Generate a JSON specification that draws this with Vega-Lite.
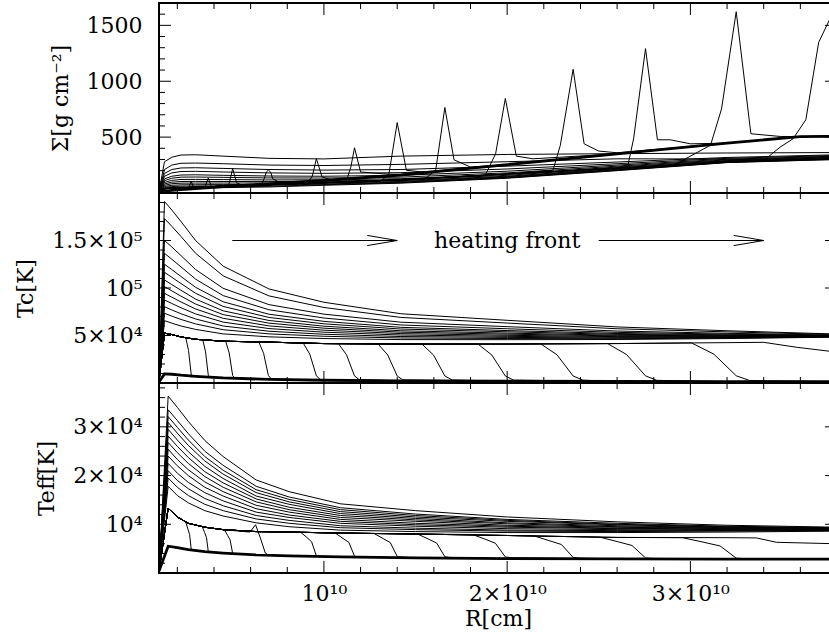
{
"$schema":"https://vega.github.io/schema/vega-lite/v6.json",
"padding":{"left":13,"top":1,"right":0,"bottom":0},
"spacing":0,
"bounds":"flush",
"config":{"font":"DejaVu Serif","view":{"stroke":"black","strokeWidth":2},
"axis":{"labelFont":"DejaVu Serif","titleFont":"DejaVu Serif","labelFontSize":22,"titleFontSize":22,"titleFontWeight":"normal","labelColor":"black","titleColor":"black","ticks":false,"grid":false,"domain":false,"labelOverlap":false,"labelFlush":false}},
"datasets":{
"xt":[{"r":2e9,"k":"m"},{"r":4e9,"k":"m"},{"r":6e9,"k":"m"},{"r":8e9,"k":"m"},{"r":1e10,"k":"M"},{"r":1.2e10,"k":"m"},{"r":1.4e10,"k":"m"},{"r":1.6e10,"k":"m"},{"r":1.8e10,"k":"m"},{"r":2e10,"k":"M"},{"r":2.2e10,"k":"m"},{"r":2.4e10,"k":"m"},{"r":2.6e10,"k":"m"},{"r":2.8e10,"k":"m"},{"r":3e10,"k":"M"},{"r":3.2e10,"k":"m"},{"r":3.4e10,"k":"m"},{"r":3.6e10,"k":"m"}],
"y1":[{"v":100,"k":"m"},{"v":200,"k":"m"},{"v":300,"k":"m"},{"v":400,"k":"m"},{"v":500,"k":"M"},{"v":600,"k":"m"},{"v":700,"k":"m"},{"v":800,"k":"m"},{"v":900,"k":"m"},{"v":1000,"k":"M"},{"v":1100,"k":"m"},{"v":1200,"k":"m"},{"v":1300,"k":"m"},{"v":1400,"k":"m"},{"v":1500,"k":"M"},{"v":1600,"k":"m"}],
"y2":[{"v":10000,"k":"m"},{"v":20000,"k":"m"},{"v":30000,"k":"m"},{"v":40000,"k":"m"},{"v":50000,"k":"M"},{"v":60000,"k":"m"},{"v":70000,"k":"m"},{"v":80000,"k":"m"},{"v":90000,"k":"m"},{"v":100000,"k":"M"},{"v":110000,"k":"m"},{"v":120000,"k":"m"},{"v":130000,"k":"m"},{"v":140000,"k":"m"},{"v":150000,"k":"M"},{"v":160000,"k":"m"},{"v":170000,"k":"m"},{"v":180000,"k":"m"},{"v":190000,"k":"m"}],
"y3":[{"v":2000,"k":"m"},{"v":4000,"k":"m"},{"v":6000,"k":"m"},{"v":8000,"k":"m"},{"v":10000,"k":"M"},{"v":12000,"k":"m"},{"v":14000,"k":"m"},{"v":16000,"k":"m"},{"v":18000,"k":"m"},{"v":20000,"k":"M"},{"v":22000,"k":"m"},{"v":24000,"k":"m"},{"v":26000,"k":"m"},{"v":28000,"k":"m"},{"v":30000,"k":"M"},{"v":32000,"k":"m"},{"v":34000,"k":"m"},{"v":36000,"k":"m"},{"v":38000,"k":"m"}],
"sig":[
{"c":"h1","r":1e9,"v":10},{"c":"h1","r":1.3e9,"v":280},{"c":"h1","r":1.7e9,"v":320},{"c":"h1","r":2.2e9,"v":340},{"c":"h1","r":3e9,"v":342},{"c":"h1","r":4.5e9,"v":330},{"c":"h1","r":7e9,"v":310},{"c":"h1","r":1e10,"v":305},{"c":"h1","r":1.42e10,"v":330},{"c":"h1","r":2e10,"v":345},{"c":"h1","r":2.6e10,"v":352},{"c":"h1","r":3.2e10,"v":358},{"c":"h1","r":3.8e10,"v":362},
{"c":"h2","r":1e9,"v":9},{"c":"h2","r":1.3e9,"v":210},{"c":"h2","r":1.7e9,"v":250},{"c":"h2","r":2.2e9,"v":266},{"c":"h2","r":3e9,"v":268},{"c":"h2","r":4.5e9,"v":262},{"c":"h2","r":7e9,"v":250},{"c":"h2","r":1e10,"v":246},{"c":"h2","r":1.42e10,"v":256},{"c":"h2","r":2e10,"v":280},{"c":"h2","r":2.6e10,"v":306},{"c":"h2","r":3.2e10,"v":304},{"c":"h2","r":3.8e10,"v":298},
{"c":"h3","r":1e9,"v":9},{"c":"h3","r":1.3e9,"v":175},{"c":"h3","r":1.7e9,"v":210},{"c":"h3","r":2.2e9,"v":224},{"c":"h3","r":3e9,"v":226},{"c":"h3","r":4.5e9,"v":220},{"c":"h3","r":7e9,"v":210},{"c":"h3","r":1e10,"v":205},{"c":"h3","r":1.42e10,"v":210},{"c":"h3","r":2e10,"v":240},{"c":"h3","r":2.6e10,"v":277},{"c":"h3","r":3.2e10,"v":318},{"c":"h3","r":3.8e10,"v":342},
{"c":"h4","r":1e9,"v":8},{"c":"h4","r":1.3e9,"v":150},{"c":"h4","r":1.7e9,"v":180},{"c":"h4","r":2.2e9,"v":192},{"c":"h4","r":3e9,"v":194},{"c":"h4","r":4.5e9,"v":188},{"c":"h4","r":7e9,"v":180},{"c":"h4","r":1e10,"v":176},{"c":"h4","r":1.42e10,"v":182},{"c":"h4","r":2e10,"v":215},{"c":"h4","r":2.6e10,"v":262},{"c":"h4","r":3.2e10,"v":310},{"c":"h4","r":3.8e10,"v":336},
{"c":"h5","r":1e9,"v":8},{"c":"h5","r":1.3e9,"v":126},{"c":"h5","r":1.7e9,"v":150},{"c":"h5","r":2.2e9,"v":161},{"c":"h5","r":3e9,"v":163},{"c":"h5","r":4.5e9,"v":158},{"c":"h5","r":7e9,"v":152},{"c":"h5","r":1e10,"v":150},{"c":"h5","r":1.42e10,"v":158},{"c":"h5","r":2e10,"v":195},{"c":"h5","r":2.6e10,"v":250},{"c":"h5","r":3.2e10,"v":302},{"c":"h5","r":3.8e10,"v":330},
{"c":"h6","r":1e9,"v":7},{"c":"h6","r":1.3e9,"v":110},{"c":"h6","r":1.7e9,"v":132},{"c":"h6","r":2.2e9,"v":142},{"c":"h6","r":3e9,"v":143},{"c":"h6","r":4.5e9,"v":140},{"c":"h6","r":7e9,"v":135},{"c":"h6","r":1e10,"v":134},{"c":"h6","r":1.42e10,"v":142},{"c":"h6","r":2e10,"v":180},{"c":"h6","r":2.6e10,"v":240},{"c":"h6","r":3.2e10,"v":296},{"c":"h6","r":3.8e10,"v":325},
{"c":"h7","r":1e9,"v":7},{"c":"h7","r":1.3e9,"v":94},{"c":"h7","r":1.7e9,"v":113},{"c":"h7","r":2.2e9,"v":121},{"c":"h7","r":3e9,"v":122},{"c":"h7","r":4.5e9,"v":120},{"c":"h7","r":7e9,"v":117},{"c":"h7","r":1e10,"v":118},{"c":"h7","r":1.42e10,"v":128},{"c":"h7","r":2e10,"v":168},{"c":"h7","r":2.6e10,"v":232},{"c":"h7","r":3.2e10,"v":290},{"c":"h7","r":3.8e10,"v":320},
{"c":"h8","r":1e9,"v":6},{"c":"h8","r":1.3e9,"v":81},{"c":"h8","r":1.7e9,"v":97},{"c":"h8","r":2.2e9,"v":103},{"c":"h8","r":3e9,"v":104},{"c":"h8","r":4.5e9,"v":103},{"c":"h8","r":7e9,"v":102},{"c":"h8","r":1e10,"v":106},{"c":"h8","r":1.42e10,"v":118},{"c":"h8","r":2e10,"v":158},{"c":"h8","r":2.6e10,"v":225},{"c":"h8","r":3.2e10,"v":286},{"c":"h8","r":3.8e10,"v":316},
{"c":"h9","r":1e9,"v":6},{"c":"h9","r":1.3e9,"v":69},{"c":"h9","r":1.7e9,"v":83},{"c":"h9","r":2.2e9,"v":88},{"c":"h9","r":3e9,"v":89},{"c":"h9","r":4.5e9,"v":89},{"c":"h9","r":7e9,"v":90},{"c":"h9","r":1e10,"v":96},{"c":"h9","r":1.42e10,"v":110},{"c":"h9","r":2e10,"v":150},{"c":"h9","r":2.6e10,"v":218},{"c":"h9","r":3.2e10,"v":282},{"c":"h9","r":3.8e10,"v":312},
{"c":"h10","r":1e9,"v":5},{"c":"h10","r":1.3e9,"v":58},{"c":"h10","r":1.7e9,"v":69},{"c":"h10","r":2.2e9,"v":73},{"c":"h10","r":3e9,"v":74},{"c":"h10","r":4.5e9,"v":75},{"c":"h10","r":7e9,"v":78},{"c":"h10","r":1e10,"v":87},{"c":"h10","r":1.42e10,"v":103},{"c":"h10","r":2e10,"v":145},{"c":"h10","r":2.6e10,"v":212},{"c":"h10","r":3.2e10,"v":279},{"c":"h10","r":3.8e10,"v":308},
{"c":"h11","r":1e9,"v":5},{"c":"h11","r":1.3e9,"v":49},{"c":"h11","r":1.7e9,"v":58},{"c":"h11","r":2.2e9,"v":61},{"c":"h11","r":3e9,"v":62},{"c":"h11","r":4.5e9,"v":64},{"c":"h11","r":7e9,"v":68},{"c":"h11","r":1e10,"v":80},{"c":"h11","r":1.42e10,"v":97},{"c":"h11","r":2e10,"v":140},{"c":"h11","r":2.6e10,"v":207},{"c":"h11","r":3.2e10,"v":276},{"c":"h11","r":3.8e10,"v":305},
{"c":"h12","r":1e9,"v":5},{"c":"h12","r":1.3e9,"v":42},{"c":"h12","r":1.7e9,"v":49},{"c":"h12","r":2.2e9,"v":52},{"c":"h12","r":3e9,"v":52},{"c":"h12","r":4.5e9,"v":55},{"c":"h12","r":7e9,"v":60},{"c":"h12","r":1e10,"v":74},{"c":"h12","r":1.42e10,"v":92},{"c":"h12","r":2e10,"v":136},{"c":"h12","r":2.6e10,"v":203},{"c":"h12","r":3.2e10,"v":274},{"c":"h12","r":3.8e10,"v":302},
{"c":"h13","r":1e9,"v":4},{"c":"h13","r":1.3e9,"v":36},{"c":"h13","r":1.7e9,"v":42},{"c":"h13","r":2.2e9,"v":45},{"c":"h13","r":3e9,"v":45},{"c":"h13","r":4.5e9,"v":48},{"c":"h13","r":7e9,"v":54},{"c":"h13","r":1e10,"v":69},{"c":"h13","r":1.42e10,"v":88},{"c":"h13","r":2e10,"v":132},{"c":"h13","r":2.6e10,"v":200},{"c":"h13","r":3.2e10,"v":272},{"c":"h13","r":3.8e10,"v":300},
{"c":"cold","r":1e9,"v":12},{"c":"cold","r":1.3e9,"v":17},{"c":"cold","r":1.7e9,"v":23},{"c":"cold","r":2.2e9,"v":30},{"c":"cold","r":3e9,"v":40},{"c":"cold","r":4.5e9,"v":57},{"c":"cold","r":7e9,"v":82},{"c":"cold","r":1e10,"v":112},{"c":"cold","r":1.42e10,"v":161},{"c":"cold","r":2e10,"v":254},{"c":"cold","r":2.6e10,"v":350},{"c":"cold","r":3.2e10,"v":446},{"c":"cold","r":3.6e10,"v":505},{"c":"cold","r":3.8e10,"v":507},
{"c":"f1","r":1e9,"v":10},{"c":"f1","r":1.3e9,"v":39},{"c":"f1","r":1.7e9,"v":43},{"c":"f1","r":2.2e9,"v":47},{"c":"f1","r":2.61e9,"v":45},{"c":"f1","r":2.76e9,"v":104},{"c":"f1","r":2.91e9,"v":36},{"c":"f1","r":3e9,"v":40},{"c":"f1","r":4.5e9,"v":57},{"c":"f1","r":7e9,"v":82},{"c":"f1","r":1e10,"v":112},{"c":"f1","r":1.42e10,"v":161},{"c":"f1","r":2e10,"v":254},{"c":"f1","r":2.6e10,"v":350},{"c":"f1","r":3.2e10,"v":446},{"c":"f1","r":3.6e10,"v":505},{"c":"f1","r":3.8e10,"v":507},
{"c":"f2","r":1e9,"v":10},{"c":"f2","r":1.3e9,"v":39},{"c":"f2","r":1.7e9,"v":43},{"c":"f2","r":2.2e9,"v":47},{"c":"f2","r":3e9,"v":52},{"c":"f2","r":3.51e9,"v":55},{"c":"f2","r":3.69e9,"v":134},{"c":"f2","r":3.87e9,"v":54},{"c":"f2","r":4.5e9,"v":57},{"c":"f2","r":7e9,"v":82},{"c":"f2","r":1e10,"v":112},{"c":"f2","r":1.42e10,"v":161},{"c":"f2","r":2e10,"v":254},{"c":"f2","r":2.6e10,"v":350},{"c":"f2","r":3.2e10,"v":446},{"c":"f2","r":3.6e10,"v":505},{"c":"f2","r":3.8e10,"v":507},
{"c":"f3","r":1e9,"v":10},{"c":"f3","r":1.3e9,"v":39},{"c":"f3","r":1.7e9,"v":43},{"c":"f3","r":2.2e9,"v":47},{"c":"f3","r":3e9,"v":52},{"c":"f3","r":4.5e9,"v":61},{"c":"f3","r":4.8e9,"v":66},{"c":"f3","r":5.02e9,"v":217},{"c":"f3","r":5.24e9,"v":90},{"c":"f3","r":5.6e9,"v":66},{"c":"f3","r":7e9,"v":82},{"c":"f3","r":1e10,"v":112},{"c":"f3","r":1.42e10,"v":161},{"c":"f3","r":2e10,"v":254},{"c":"f3","r":2.6e10,"v":350},{"c":"f3","r":3.2e10,"v":446},{"c":"f3","r":3.6e10,"v":505},{"c":"f3","r":3.8e10,"v":507},
{"c":"f4","r":1e9,"v":10},{"c":"f4","r":1.3e9,"v":39},{"c":"f4","r":1.7e9,"v":43},{"c":"f4","r":2.2e9,"v":47},{"c":"f4","r":3e9,"v":52},{"c":"f4","r":4.5e9,"v":61},{"c":"f4","r":6.6e9,"v":73},{"c":"f4","r":6.75e9,"v":134},{"c":"f4","r":6.87e9,"v":190},{"c":"f4","r":6.97e9,"v":205},{"c":"f4","r":7.1e9,"v":185},{"c":"f4","r":7.2e9,"v":128},{"c":"f4","r":7.6e9,"v":92},{"c":"f4","r":1e10,"v":112},{"c":"f4","r":1.42e10,"v":161},{"c":"f4","r":2e10,"v":254},{"c":"f4","r":2.6e10,"v":350},{"c":"f4","r":3.2e10,"v":446},{"c":"f4","r":3.6e10,"v":505},{"c":"f4","r":3.8e10,"v":507},
{"c":"f5","r":1e9,"v":10},{"c":"f5","r":1.3e9,"v":39},{"c":"f5","r":1.7e9,"v":43},{"c":"f5","r":2.2e9,"v":47},{"c":"f5","r":3e9,"v":52},{"c":"f5","r":4.5e9,"v":61},{"c":"f5","r":7e9,"v":75},{"c":"f5","r":9.1e9,"v":88},{"c":"f5","r":9.37e9,"v":152},{"c":"f5","r":9.59e9,"v":307},{"c":"f5","r":9.9e9,"v":143},{"c":"f5","r":1.04e10,"v":118},{"c":"f5","r":1.42e10,"v":161},{"c":"f5","r":2e10,"v":254},{"c":"f5","r":2.6e10,"v":350},{"c":"f5","r":3.2e10,"v":446},{"c":"f5","r":3.6e10,"v":505},{"c":"f5","r":3.8e10,"v":507},
{"c":"f6","r":1e9,"v":10},{"c":"f6","r":1.3e9,"v":39},{"c":"f6","r":1.7e9,"v":43},{"c":"f6","r":2.2e9,"v":47},{"c":"f6","r":3e9,"v":52},{"c":"f6","r":4.5e9,"v":61},{"c":"f6","r":7e9,"v":75},{"c":"f6","r":1e10,"v":92},{"c":"f6","r":1.12e10,"v":98},{"c":"f6","r":1.147e10,"v":232},{"c":"f6","r":1.167e10,"v":405},{"c":"f6","r":1.2e10,"v":188},{"c":"f6","r":1.32e10,"v":172},{"c":"f6","r":1.42e10,"v":165},{"c":"f6","r":2e10,"v":254},{"c":"f6","r":2.6e10,"v":350},{"c":"f6","r":3.2e10,"v":446},{"c":"f6","r":3.6e10,"v":505},{"c":"f6","r":3.8e10,"v":507},
{"c":"f7","r":1e9,"v":10},{"c":"f7","r":1.3e9,"v":39},{"c":"f7","r":1.7e9,"v":43},{"c":"f7","r":2.2e9,"v":47},{"c":"f7","r":3e9,"v":52},{"c":"f7","r":4.5e9,"v":61},{"c":"f7","r":7e9,"v":75},{"c":"f7","r":1e10,"v":92},{"c":"f7","r":1.31e10,"v":105},{"c":"f7","r":1.355e10,"v":172},{"c":"f7","r":1.4e10,"v":630},{"c":"f7","r":1.45e10,"v":203},{"c":"f7","r":1.54e10,"v":188},{"c":"f7","r":2e10,"v":254},{"c":"f7","r":2.6e10,"v":350},{"c":"f7","r":3.2e10,"v":446},{"c":"f7","r":3.6e10,"v":505},{"c":"f7","r":3.8e10,"v":507},
{"c":"f8","r":1e9,"v":10},{"c":"f8","r":1.3e9,"v":39},{"c":"f8","r":1.7e9,"v":43},{"c":"f8","r":2.2e9,"v":47},{"c":"f8","r":3e9,"v":52},{"c":"f8","r":4.5e9,"v":61},{"c":"f8","r":7e9,"v":75},{"c":"f8","r":1e10,"v":92},{"c":"f8","r":1.42e10,"v":119},{"c":"f8","r":1.55e10,"v":125},{"c":"f8","r":1.61e10,"v":203},{"c":"f8","r":1.66e10,"v":765},{"c":"f8","r":1.71e10,"v":297},{"c":"f8","r":1.8e10,"v":232},{"c":"f8","r":2e10,"v":254},{"c":"f8","r":2.6e10,"v":350},{"c":"f8","r":3.2e10,"v":446},{"c":"f8","r":3.6e10,"v":505},{"c":"f8","r":3.8e10,"v":507},
{"c":"f9","r":1e9,"v":10},{"c":"f9","r":1.3e9,"v":39},{"c":"f9","r":1.7e9,"v":43},{"c":"f9","r":2.2e9,"v":47},{"c":"f9","r":3e9,"v":52},{"c":"f9","r":4.5e9,"v":61},{"c":"f9","r":7e9,"v":75},{"c":"f9","r":1e10,"v":92},{"c":"f9","r":1.42e10,"v":119},{"c":"f9","r":1.88e10,"v":158},{"c":"f9","r":1.937e10,"v":351},{"c":"f9","r":1.99e10,"v":846},{"c":"f9","r":2.05e10,"v":330},{"c":"f9","r":2.14e10,"v":306},{"c":"f9","r":2.6e10,"v":350},{"c":"f9","r":3.2e10,"v":446},{"c":"f9","r":3.6e10,"v":505},{"c":"f9","r":3.8e10,"v":507},
{"c":"f10","r":1e9,"v":10},{"c":"f10","r":1.3e9,"v":39},{"c":"f10","r":1.7e9,"v":43},{"c":"f10","r":2.2e9,"v":47},{"c":"f10","r":3e9,"v":52},{"c":"f10","r":4.5e9,"v":61},{"c":"f10","r":7e9,"v":75},{"c":"f10","r":1e10,"v":92},{"c":"f10","r":1.42e10,"v":119},{"c":"f10","r":2e10,"v":170},{"c":"f10","r":2.25e10,"v":203},{"c":"f10","r":2.29e10,"v":426},{"c":"f10","r":2.36e10,"v":1107},{"c":"f10","r":2.42e10,"v":440},{"c":"f10","r":2.5e10,"v":375},{"c":"f10","r":2.6e10,"v":360},{"c":"f10","r":3.2e10,"v":446},{"c":"f10","r":3.6e10,"v":505},{"c":"f10","r":3.8e10,"v":507},
{"c":"f11","r":1e9,"v":10},{"c":"f11","r":1.3e9,"v":39},{"c":"f11","r":1.7e9,"v":43},{"c":"f11","r":2.2e9,"v":47},{"c":"f11","r":3e9,"v":52},{"c":"f11","r":4.5e9,"v":61},{"c":"f11","r":7e9,"v":75},{"c":"f11","r":1e10,"v":92},{"c":"f11","r":1.42e10,"v":119},{"c":"f11","r":2e10,"v":170},{"c":"f11","r":2.6e10,"v":222},{"c":"f11","r":2.66e10,"v":256},{"c":"f11","r":2.69e10,"v":485},{"c":"f11","r":2.755e10,"v":1292},{"c":"f11","r":2.82e10,"v":476},{"c":"f11","r":2.89e10,"v":476},{"c":"f11","r":3e10,"v":440},{"c":"f11","r":3.2e10,"v":446},{"c":"f11","r":3.6e10,"v":505},{"c":"f11","r":3.8e10,"v":507},
{"c":"f12","r":1e9,"v":10},{"c":"f12","r":1.3e9,"v":39},{"c":"f12","r":1.7e9,"v":43},{"c":"f12","r":2.2e9,"v":47},{"c":"f12","r":3e9,"v":52},{"c":"f12","r":4.5e9,"v":61},{"c":"f12","r":7e9,"v":75},{"c":"f12","r":1e10,"v":92},{"c":"f12","r":1.42e10,"v":119},{"c":"f12","r":2e10,"v":170},{"c":"f12","r":2.6e10,"v":222},{"c":"f12","r":2.9e10,"v":240},{"c":"f12","r":3.11e10,"v":428},{"c":"f12","r":3.17e10,"v":753},{"c":"f12","r":3.25e10,"v":1622},{"c":"f12","r":3.33e10,"v":530},{"c":"f12","r":3.49e10,"v":506},{"c":"f12","r":3.6e10,"v":505},{"c":"f12","r":3.8e10,"v":507},
{"c":"f13","r":1e9,"v":10},{"c":"f13","r":1.3e9,"v":39},{"c":"f13","r":1.7e9,"v":43},{"c":"f13","r":2.2e9,"v":47},{"c":"f13","r":3e9,"v":52},{"c":"f13","r":4.5e9,"v":61},{"c":"f13","r":7e9,"v":75},{"c":"f13","r":1e10,"v":92},{"c":"f13","r":1.42e10,"v":119},{"c":"f13","r":2e10,"v":170},{"c":"f13","r":2.6e10,"v":222},{"c":"f13","r":3.2e10,"v":275},{"c":"f13","r":3.4e10,"v":290},{"c":"f13","r":3.49e10,"v":411},{"c":"f13","r":3.56e10,"v":485},{"c":"f13","r":3.63e10,"v":655},{"c":"f13","r":3.7e10,"v":1348},{"c":"f13","r":3.8e10,"v":1690}
],
"tc":[
{"c":"h1","r":1e9,"v":1500},{"c":"h1","r":1.3e9,"v":191000},{"c":"h1","r":1.7e9,"v":182100},{"c":"h1","r":2.2e9,"v":170000},{"c":"h1","r":3e9,"v":149900},{"c":"h1","r":4.5e9,"v":123000},{"c":"h1","r":7e9,"v":99000},{"c":"h1","r":1e10,"v":85000},{"c":"h1","r":1.42e10,"v":72900},{"c":"h1","r":2e10,"v":66000},{"c":"h1","r":2.6e10,"v":59000},{"c":"h1","r":3.2e10,"v":55000},{"c":"h1","r":3.8e10,"v":51500},
{"c":"h2","r":1e9,"v":1500},{"c":"h2","r":1.3e9,"v":173000},{"c":"h2","r":1.7e9,"v":165000},{"c":"h2","r":2.2e9,"v":154200},{"c":"h2","r":3e9,"v":136500},{"c":"h2","r":4.5e9,"v":112800},{"c":"h2","r":7e9,"v":91700},{"c":"h2","r":1e10,"v":79500},{"c":"h2","r":1.42e10,"v":69000},{"c":"h2","r":2e10,"v":63100},{"c":"h2","r":2.6e10,"v":57100},{"c":"h2","r":3.2e10,"v":53800},{"c":"h2","r":3.8e10,"v":51000},
{"c":"h3","r":1e9,"v":1500},{"c":"h3","r":1.3e9,"v":150000},{"c":"h3","r":1.7e9,"v":143200},{"c":"h3","r":2.2e9,"v":134100},{"c":"h3","r":3e9,"v":119400},{"c":"h3","r":4.5e9,"v":99700},{"c":"h3","r":7e9,"v":82500},{"c":"h3","r":1e10,"v":72500},{"c":"h3","r":1.42e10,"v":64000},{"c":"h3","r":2e10,"v":59300},{"c":"h3","r":2.6e10,"v":54700},{"c":"h3","r":3.2e10,"v":52300},{"c":"h3","r":3.8e10,"v":50400},
{"c":"h4","r":1e9,"v":1500},{"c":"h4","r":1.3e9,"v":136500},{"c":"h4","r":1.7e9,"v":130300},{"c":"h4","r":2.2e9,"v":122200},{"c":"h4","r":3e9,"v":109300},{"c":"h4","r":4.5e9,"v":92000},{"c":"h4","r":7e9,"v":77100},{"c":"h4","r":1e10,"v":68400},{"c":"h4","r":1.42e10,"v":61100},{"c":"h4","r":2e10,"v":57100},{"c":"h4","r":2.6e10,"v":53300},{"c":"h4","r":3.2e10,"v":51400},{"c":"h4","r":3.8e10,"v":50100},
{"c":"h5","r":1e9,"v":1500},{"c":"h5","r":1.3e9,"v":125000},{"c":"h5","r":1.7e9,"v":119400},{"c":"h5","r":2.2e9,"v":112100},{"c":"h5","r":3e9,"v":100700},{"c":"h5","r":4.5e9,"v":85500},{"c":"h5","r":7e9,"v":72400},{"c":"h5","r":1e10,"v":64900},{"c":"h5","r":1.42e10,"v":58600},{"c":"h5","r":2e10,"v":55200},{"c":"h5","r":2.6e10,"v":52100},{"c":"h5","r":3.2e10,"v":50700},{"c":"h5","r":3.8e10,"v":49800},
{"c":"h6","r":1e9,"v":1500},{"c":"h6","r":1.3e9,"v":116500},{"c":"h6","r":1.7e9,"v":111300},{"c":"h6","r":2.2e9,"v":104700},{"c":"h6","r":3e9,"v":94400},{"c":"h6","r":4.5e9,"v":80600},{"c":"h6","r":7e9,"v":69000},{"c":"h6","r":1e10,"v":62300},{"c":"h6","r":1.42e10,"v":56800},{"c":"h6","r":2e10,"v":53900},{"c":"h6","r":2.6e10,"v":51200},{"c":"h6","r":3.2e10,"v":50100},{"c":"h6","r":3.8e10,"v":49600},
{"c":"h7","r":1e9,"v":1500},{"c":"h7","r":1.3e9,"v":108400},{"c":"h7","r":1.7e9,"v":103600},{"c":"h7","r":2.2e9,"v":97600},{"c":"h7","r":3e9,"v":88300},{"c":"h7","r":4.5e9,"v":76000},{"c":"h7","r":7e9,"v":65800},{"c":"h7","r":1e10,"v":59800},{"c":"h7","r":1.42e10,"v":55000},{"c":"h7","r":2e10,"v":52500},{"c":"h7","r":2.6e10,"v":50300},{"c":"h7","r":3.2e10,"v":49600},{"c":"h7","r":3.8e10,"v":49400},
{"c":"h8","r":1e9,"v":1500},{"c":"h8","r":1.3e9,"v":101400},{"c":"h8","r":1.7e9,"v":97000},{"c":"h8","r":2.2e9,"v":91400},{"c":"h8","r":3e9,"v":83100},{"c":"h8","r":4.5e9,"v":72000},{"c":"h8","r":7e9,"v":63000},{"c":"h8","r":1e10,"v":57700},{"c":"h8","r":1.42e10,"v":53500},{"c":"h8","r":2e10,"v":51400},{"c":"h8","r":2.6e10,"v":49600},{"c":"h8","r":3.2e10,"v":49100},{"c":"h8","r":3.8e10,"v":49200},
{"c":"h9","r":1e9,"v":1500},{"c":"h9","r":1.3e9,"v":94400},{"c":"h9","r":1.7e9,"v":90300},{"c":"h9","r":2.2e9,"v":85300},{"c":"h9","r":3e9,"v":77900},{"c":"h9","r":4.5e9,"v":68100},{"c":"h9","r":7e9,"v":60100},{"c":"h9","r":1e10,"v":55600},{"c":"h9","r":1.42e10,"v":52000},{"c":"h9","r":2e10,"v":50200},{"c":"h9","r":2.6e10,"v":48800},{"c":"h9","r":3.2e10,"v":48700},{"c":"h9","r":3.8e10,"v":49000},
{"c":"h10","r":1e9,"v":1500},{"c":"h10","r":1.3e9,"v":87400},{"c":"h10","r":1.7e9,"v":83700},{"c":"h10","r":2.2e9,"v":79200},{"c":"h10","r":3e9,"v":72700},{"c":"h10","r":4.5e9,"v":64100},{"c":"h10","r":7e9,"v":57300},{"c":"h10","r":1e10,"v":53500},{"c":"h10","r":1.42e10,"v":50500},{"c":"h10","r":2e10,"v":49100},{"c":"h10","r":2.6e10,"v":48100},{"c":"h10","r":3.2e10,"v":48200},{"c":"h10","r":3.8e10,"v":48900},
{"c":"h11","r":1e9,"v":1500},{"c":"h11","r":1.3e9,"v":80300},{"c":"h11","r":1.7e9,"v":76900},{"c":"h11","r":2.2e9,"v":72900},{"c":"h11","r":3e9,"v":67400},{"c":"h11","r":4.5e9,"v":60000},{"c":"h11","r":7e9,"v":54500},{"c":"h11","r":1e10,"v":51300},{"c":"h11","r":1.42e10,"v":48900},{"c":"h11","r":2e10,"v":48000},{"c":"h11","r":2.6e10,"v":47400},{"c":"h11","r":3.2e10,"v":47800},{"c":"h11","r":3.8e10,"v":48700},
{"c":"h12","r":1e9,"v":1500},{"c":"h12","r":1.3e9,"v":73400},{"c":"h12","r":1.7e9,"v":70400},{"c":"h12","r":2.2e9,"v":66900},{"c":"h12","r":3e9,"v":62200},{"c":"h12","r":4.5e9,"v":56100},{"c":"h12","r":7e9,"v":51700},{"c":"h12","r":1e10,"v":49200},{"c":"h12","r":1.42e10,"v":47400},{"c":"h12","r":2e10,"v":46800},{"c":"h12","r":2.6e10,"v":46600},{"c":"h12","r":3.2e10,"v":47300},{"c":"h12","r":3.8e10,"v":48500},
{"c":"h13","r":1e9,"v":1500},{"c":"h13","r":1.3e9,"v":65600},{"c":"h13","r":1.7e9,"v":63000},{"c":"h13","r":2.2e9,"v":60000},{"c":"h13","r":3e9,"v":56400},{"c":"h13","r":4.5e9,"v":51700},{"c":"h13","r":7e9,"v":48600},{"c":"h13","r":1e10,"v":46800},{"c":"h13","r":1.42e10,"v":45700},{"c":"h13","r":2e10,"v":45600},{"c":"h13","r":2.6e10,"v":45800},{"c":"h13","r":3.2e10,"v":46800},{"c":"h13","r":3.8e10,"v":48300},
{"c":"cold","r":1e9,"v":1000},{"c":"cold","r":1.3e9,"v":9500},{"c":"cold","r":1.7e9,"v":9200},{"c":"cold","r":2.2e9,"v":8200},{"c":"cold","r":3e9,"v":7000},{"c":"cold","r":4.5e9,"v":5300},{"c":"cold","r":7e9,"v":3800},{"c":"cold","r":1e10,"v":2900},{"c":"cold","r":1.42e10,"v":2300},{"c":"cold","r":2e10,"v":1900},{"c":"cold","r":2.6e10,"v":1600},{"c":"cold","r":3.2e10,"v":1400},{"c":"cold","r":3.8e10,"v":1300},
{"c":"f1","r":1e9,"v":1500},{"c":"f1","r":1.3e9,"v":52500},{"c":"f1","r":1.7e9,"v":51000},{"c":"f1","r":2.2e9,"v":48500},{"c":"f1","r":2.46e9,"v":47700},{"c":"f1","r":2.61e9,"v":34300},{"c":"f1","r":2.76e9,"v":8600},{"c":"f1","r":2.85e9,"v":7600},{"c":"f1","r":3e9,"v":7000},{"c":"f1","r":4.5e9,"v":5300},{"c":"f1","r":7e9,"v":3800},{"c":"f1","r":1e10,"v":2900},{"c":"f1","r":1.42e10,"v":2300},{"c":"f1","r":2e10,"v":1900},{"c":"f1","r":2.6e10,"v":1600},{"c":"f1","r":3.2e10,"v":1400},{"c":"f1","r":3.8e10,"v":1300},
{"c":"f2","r":1e9,"v":1500},{"c":"f2","r":1.3e9,"v":52500},{"c":"f2","r":1.7e9,"v":51000},{"c":"f2","r":2.2e9,"v":48500},{"c":"f2","r":3e9,"v":46000},{"c":"f2","r":3.39e9,"v":45500},{"c":"f2","r":3.54e9,"v":32800},{"c":"f2","r":3.69e9,"v":8200},{"c":"f2","r":3.78e9,"v":6600},{"c":"f2","r":4.5e9,"v":5300},{"c":"f2","r":7e9,"v":3800},{"c":"f2","r":1e10,"v":2900},{"c":"f2","r":1.42e10,"v":2300},{"c":"f2","r":2e10,"v":1900},{"c":"f2","r":2.6e10,"v":1600},{"c":"f2","r":3.2e10,"v":1400},{"c":"f2","r":3.8e10,"v":1300},
{"c":"f3","r":1e9,"v":1500},{"c":"f3","r":1.3e9,"v":52500},{"c":"f3","r":1.7e9,"v":51000},{"c":"f3","r":2.2e9,"v":48500},{"c":"f3","r":3e9,"v":46000},{"c":"f3","r":4.5e9,"v":44000},{"c":"f3","r":4.64e9,"v":43900},{"c":"f3","r":4.83e9,"v":31600},{"c":"f3","r":5.02e9,"v":7900},{"c":"f3","r":5.13e9,"v":5300},{"c":"f3","r":7e9,"v":3800},{"c":"f3","r":1e10,"v":2900},{"c":"f3","r":1.42e10,"v":2300},{"c":"f3","r":2e10,"v":1900},{"c":"f3","r":2.6e10,"v":1600},{"c":"f3","r":3.2e10,"v":1400},{"c":"f3","r":3.8e10,"v":1300},
{"c":"f4","r":1e9,"v":1500},{"c":"f4","r":1.3e9,"v":52500},{"c":"f4","r":1.7e9,"v":51000},{"c":"f4","r":2.2e9,"v":48500},{"c":"f4","r":3e9,"v":46000},{"c":"f4","r":4.5e9,"v":44000},{"c":"f4","r":6.45e9,"v":43200},{"c":"f4","r":6.71e9,"v":31100},{"c":"f4","r":6.97e9,"v":7800},{"c":"f4","r":7.13e9,"v":4300},{"c":"f4","r":1e10,"v":2900},{"c":"f4","r":1.42e10,"v":2300},{"c":"f4","r":2e10,"v":1900},{"c":"f4","r":2.6e10,"v":1600},{"c":"f4","r":3.2e10,"v":1400},{"c":"f4","r":3.8e10,"v":1300},
{"c":"f5","r":1e9,"v":1500},{"c":"f5","r":1.3e9,"v":52500},{"c":"f5","r":1.7e9,"v":51000},{"c":"f5","r":2.2e9,"v":48500},{"c":"f5","r":3e9,"v":46000},{"c":"f5","r":4.5e9,"v":44000},{"c":"f5","r":7e9,"v":43000},{"c":"f5","r":8.87e9,"v":42100},{"c":"f5","r":9.23e9,"v":30300},{"c":"f5","r":9.59e9,"v":7500},{"c":"f5","r":9.81e9,"v":3500},{"c":"f5","r":1e10,"v":2900},{"c":"f5","r":1.42e10,"v":2300},{"c":"f5","r":2e10,"v":1900},{"c":"f5","r":2.6e10,"v":1600},{"c":"f5","r":3.2e10,"v":1400},{"c":"f5","r":3.8e10,"v":1300},
{"c":"f6","r":1e9,"v":1500},{"c":"f6","r":1.3e9,"v":52500},{"c":"f6","r":1.7e9,"v":51000},{"c":"f6","r":2.2e9,"v":48500},{"c":"f6","r":3e9,"v":46000},{"c":"f6","r":4.5e9,"v":44000},{"c":"f6","r":7e9,"v":43000},{"c":"f6","r":1e10,"v":41500},{"c":"f6","r":1.079e10,"v":41400},{"c":"f6","r":1.123e10,"v":29800},{"c":"f6","r":1.167e10,"v":7400},{"c":"f6","r":1.193e10,"v":3500},{"c":"f6","r":1.42e10,"v":2300},{"c":"f6","r":2e10,"v":1900},{"c":"f6","r":2.6e10,"v":1600},{"c":"f6","r":3.2e10,"v":1400},{"c":"f6","r":3.8e10,"v":1300},
{"c":"f7","r":1e9,"v":1500},{"c":"f7","r":1.3e9,"v":52500},{"c":"f7","r":1.7e9,"v":51000},{"c":"f7","r":2.2e9,"v":48500},{"c":"f7","r":3e9,"v":46000},{"c":"f7","r":4.5e9,"v":44000},{"c":"f7","r":7e9,"v":43000},{"c":"f7","r":1e10,"v":41500},{"c":"f7","r":1.295e10,"v":41100},{"c":"f7","r":1.348e10,"v":29600},{"c":"f7","r":1.4e10,"v":7400},{"c":"f7","r":1.43e10,"v":3300},{"c":"f7","r":2e10,"v":1900},{"c":"f7","r":2.6e10,"v":1600},{"c":"f7","r":3.2e10,"v":1400},{"c":"f7","r":3.8e10,"v":1300},
{"c":"f8","r":1e9,"v":1500},{"c":"f8","r":1.3e9,"v":52500},{"c":"f8","r":1.7e9,"v":51000},{"c":"f8","r":2.2e9,"v":48500},{"c":"f8","r":3e9,"v":46000},{"c":"f8","r":4.5e9,"v":44000},{"c":"f8","r":7e9,"v":43000},{"c":"f8","r":1e10,"v":41500},{"c":"f8","r":1.42e10,"v":41000},{"c":"f8","r":1.535e10,"v":41000},{"c":"f8","r":1.598e10,"v":29500},{"c":"f8","r":1.66e10,"v":7400},{"c":"f8","r":1.7e10,"v":3200},{"c":"f8","r":2e10,"v":1900},{"c":"f8","r":2.6e10,"v":1600},{"c":"f8","r":3.2e10,"v":1400},{"c":"f8","r":3.8e10,"v":1300},
{"c":"f9","r":1e9,"v":1500},{"c":"f9","r":1.3e9,"v":52500},{"c":"f9","r":1.7e9,"v":51000},{"c":"f9","r":2.2e9,"v":48500},{"c":"f9","r":3e9,"v":46000},{"c":"f9","r":4.5e9,"v":44000},{"c":"f9","r":7e9,"v":43000},{"c":"f9","r":1e10,"v":41500},{"c":"f9","r":1.42e10,"v":41000},{"c":"f9","r":1.841e10,"v":41000},{"c":"f9","r":1.916e10,"v":29500},{"c":"f9","r":1.99e10,"v":7400},{"c":"f9","r":2.035e10,"v":3000},{"c":"f9","r":2.6e10,"v":1600},{"c":"f9","r":3.2e10,"v":1400},{"c":"f9","r":3.8e10,"v":1300},
{"c":"f10","r":1e9,"v":1500},{"c":"f10","r":1.3e9,"v":52500},{"c":"f10","r":1.7e9,"v":51000},{"c":"f10","r":2.2e9,"v":48500},{"c":"f10","r":3e9,"v":46000},{"c":"f10","r":4.5e9,"v":44000},{"c":"f10","r":7e9,"v":43000},{"c":"f10","r":1e10,"v":41500},{"c":"f10","r":1.42e10,"v":41000},{"c":"f10","r":2e10,"v":41000},{"c":"f10","r":2.183e10,"v":41200},{"c":"f10","r":2.272e10,"v":29700},{"c":"f10","r":2.36e10,"v":7400},{"c":"f10","r":2.413e10,"v":3000},{"c":"f10","r":2.6e10,"v":1600},{"c":"f10","r":3.2e10,"v":1400},{"c":"f10","r":3.8e10,"v":1300},
{"c":"f11","r":1e9,"v":1500},{"c":"f11","r":1.3e9,"v":52500},{"c":"f11","r":1.7e9,"v":51000},{"c":"f11","r":2.2e9,"v":48500},{"c":"f11","r":3e9,"v":46000},{"c":"f11","r":4.5e9,"v":44000},{"c":"f11","r":7e9,"v":43000},{"c":"f11","r":1e10,"v":41500},{"c":"f11","r":1.42e10,"v":41000},{"c":"f11","r":2e10,"v":41000},{"c":"f11","r":2.548e10,"v":41500},{"c":"f11","r":2.652e10,"v":29900},{"c":"f11","r":2.755e10,"v":7500},{"c":"f11","r":2.817e10,"v":2800},{"c":"f11","r":3.2e10,"v":1400},{"c":"f11","r":3.8e10,"v":1300},
{"c":"f12","r":1e9,"v":1500},{"c":"f12","r":1.3e9,"v":52500},{"c":"f12","r":1.7e9,"v":51000},{"c":"f12","r":2.2e9,"v":48500},{"c":"f12","r":3e9,"v":46000},{"c":"f12","r":4.5e9,"v":44000},{"c":"f12","r":7e9,"v":43000},{"c":"f12","r":1e10,"v":41500},{"c":"f12","r":1.42e10,"v":41000},{"c":"f12","r":2e10,"v":41000},{"c":"f12","r":2.6e10,"v":41500},{"c":"f12","r":3.006e10,"v":42200},{"c":"f12","r":3.128e10,"v":30400},{"c":"f12","r":3.25e10,"v":7600},{"c":"f12","r":3.323e10,"v":2600},{"c":"f12","r":3.8e10,"v":1300},
{"c":"f13","r":1e9,"v":1500},{"c":"f13","r":1.3e9,"v":52500},{"c":"f13","r":1.7e9,"v":51000},{"c":"f13","r":2.2e9,"v":48500},{"c":"f13","r":3e9,"v":46000},{"c":"f13","r":4.5e9,"v":44000},{"c":"f13","r":7e9,"v":43000},{"c":"f13","r":1e10,"v":41500},{"c":"f13","r":1.42e10,"v":41000},{"c":"f13","r":2e10,"v":41000},{"c":"f13","r":2.6e10,"v":41500},{"c":"f13","r":3.2e10,"v":42500},{"c":"f13","r":3.4e10,"v":42800},{"c":"f13","r":3.58e10,"v":37600},{"c":"f13","r":3.8e10,"v":32500}
],
"te":[
{"c":"h1","r":1e9,"v":400},{"c":"h1","r":1.5e9,"v":36300},{"c":"h1","r":2e9,"v":34000},{"c":"h1","r":2.6e9,"v":31100},{"c":"h1","r":3.5e9,"v":27200},{"c":"h1","r":4.5e9,"v":23900},{"c":"h1","r":6.3e9,"v":19100},{"c":"h1","r":8.1e9,"v":16700},{"c":"h1","r":1.09e10,"v":14200},{"c":"h1","r":1.5e10,"v":12800},{"c":"h1","r":2e10,"v":11500},{"c":"h1","r":2.6e10,"v":10500},{"c":"h1","r":3.2e10,"v":9800},{"c":"h1","r":3.8e10,"v":9400},
{"c":"h2","r":1e9,"v":400},{"c":"h2","r":1.5e9,"v":33500},{"c":"h2","r":2e9,"v":31300},{"c":"h2","r":2.6e9,"v":28600},{"c":"h2","r":3.5e9,"v":25000},{"c":"h2","r":4.5e9,"v":22100},{"c":"h2","r":6.3e9,"v":17800},{"c":"h2","r":8.1e9,"v":15600},{"c":"h2","r":1.09e10,"v":13400},{"c":"h2","r":1.5e10,"v":12100},{"c":"h2","r":2e10,"v":11000},{"c":"h2","r":2.6e10,"v":10200},{"c":"h2","r":3.2e10,"v":9600},{"c":"h2","r":3.8e10,"v":9300},
{"c":"h3","r":1e9,"v":400},{"c":"h3","r":1.5e9,"v":32100},{"c":"h3","r":2e9,"v":29900},{"c":"h3","r":2.6e9,"v":27300},{"c":"h3","r":3.5e9,"v":23900},{"c":"h3","r":4.5e9,"v":21100},{"c":"h3","r":6.3e9,"v":17100},{"c":"h3","r":8.1e9,"v":15100},{"c":"h3","r":1.09e10,"v":13000},{"c":"h3","r":1.5e10,"v":11800},{"c":"h3","r":2e10,"v":10800},{"c":"h3","r":2.6e10,"v":10000},{"c":"h3","r":3.2e10,"v":9500},{"c":"h3","r":3.8e10,"v":9200},
{"c":"h4","r":1e9,"v":400},{"c":"h4","r":1.5e9,"v":30900},{"c":"h4","r":2e9,"v":28700},{"c":"h4","r":2.6e9,"v":26200},{"c":"h4","r":3.5e9,"v":23000},{"c":"h4","r":4.5e9,"v":20300},{"c":"h4","r":6.3e9,"v":16500},{"c":"h4","r":8.1e9,"v":14600},{"c":"h4","r":1.09e10,"v":12600},{"c":"h4","r":1.5e10,"v":11500},{"c":"h4","r":2e10,"v":10600},{"c":"h4","r":2.6e10,"v":9900},{"c":"h4","r":3.2e10,"v":9400},{"c":"h4","r":3.8e10,"v":9200},
{"c":"h5","r":1e9,"v":400},{"c":"h5","r":1.5e9,"v":29500},{"c":"h5","r":2e9,"v":27300},{"c":"h5","r":2.6e9,"v":24900},{"c":"h5","r":3.5e9,"v":21900},{"c":"h5","r":4.5e9,"v":19400},{"c":"h5","r":6.3e9,"v":15800},{"c":"h5","r":8.1e9,"v":14100},{"c":"h5","r":1.09e10,"v":12200},{"c":"h5","r":1.5e10,"v":11200},{"c":"h5","r":2e10,"v":10300},{"c":"h5","r":2.6e10,"v":9700},{"c":"h5","r":3.2e10,"v":9300},{"c":"h5","r":3.8e10,"v":9100},
{"c":"h6","r":1e9,"v":400},{"c":"h6","r":1.5e9,"v":28100},{"c":"h6","r":2e9,"v":26000},{"c":"h6","r":2.6e9,"v":23700},{"c":"h6","r":3.5e9,"v":20800},{"c":"h6","r":4.5e9,"v":18500},{"c":"h6","r":6.3e9,"v":15200},{"c":"h6","r":8.1e9,"v":13500},{"c":"h6","r":1.09e10,"v":11800},{"c":"h6","r":1.5e10,"v":10900},{"c":"h6","r":2e10,"v":10100},{"c":"h6","r":2.6e10,"v":9500},{"c":"h6","r":3.2e10,"v":9200},{"c":"h6","r":3.8e10,"v":9000},
{"c":"h7","r":1e9,"v":400},{"c":"h7","r":1.5e9,"v":26800},{"c":"h7","r":2e9,"v":24700},{"c":"h7","r":2.6e9,"v":22500},{"c":"h7","r":3.5e9,"v":19800},{"c":"h7","r":4.5e9,"v":17600},{"c":"h7","r":6.3e9,"v":14600},{"c":"h7","r":8.1e9,"v":13000},{"c":"h7","r":1.09e10,"v":11400},{"c":"h7","r":1.5e10,"v":10600},{"c":"h7","r":2e10,"v":9800},{"c":"h7","r":2.6e10,"v":9400},{"c":"h7","r":3.2e10,"v":9100},{"c":"h7","r":3.8e10,"v":9000},
{"c":"h8","r":1e9,"v":400},{"c":"h8","r":1.5e9,"v":25400},{"c":"h8","r":2e9,"v":23300},{"c":"h8","r":2.6e9,"v":21200},{"c":"h8","r":3.5e9,"v":18700},{"c":"h8","r":4.5e9,"v":16700},{"c":"h8","r":6.3e9,"v":13900},{"c":"h8","r":8.1e9,"v":12500},{"c":"h8","r":1.09e10,"v":11000},{"c":"h8","r":1.5e10,"v":10200},{"c":"h8","r":2e10,"v":9600},{"c":"h8","r":2.6e10,"v":9200},{"c":"h8","r":3.2e10,"v":9000},{"c":"h8","r":3.8e10,"v":8900},
{"c":"h9","r":1e9,"v":400},{"c":"h9","r":1.5e9,"v":24000},{"c":"h9","r":2e9,"v":22000},{"c":"h9","r":2.6e9,"v":20000},{"c":"h9","r":3.5e9,"v":17600},{"c":"h9","r":4.5e9,"v":15800},{"c":"h9","r":6.3e9,"v":13200},{"c":"h9","r":8.1e9,"v":11900},{"c":"h9","r":1.09e10,"v":10600},{"c":"h9","r":1.5e10,"v":9900},{"c":"h9","r":2e10,"v":9400},{"c":"h9","r":2.6e10,"v":9100},{"c":"h9","r":3.2e10,"v":8900},{"c":"h9","r":3.8e10,"v":8900},
{"c":"h10","r":1e9,"v":400},{"c":"h10","r":1.5e9,"v":22500},{"c":"h10","r":2e9,"v":20500},{"c":"h10","r":2.6e9,"v":18600},{"c":"h10","r":3.5e9,"v":16500},{"c":"h10","r":4.5e9,"v":14800},{"c":"h10","r":6.3e9,"v":12500},{"c":"h10","r":8.1e9,"v":11400},{"c":"h10","r":1.09e10,"v":10200},{"c":"h10","r":1.5e10,"v":9600},{"c":"h10","r":2e10,"v":9100},{"c":"h10","r":2.6e10,"v":8900},{"c":"h10","r":3.2e10,"v":8800},{"c":"h10","r":3.8e10,"v":8800},
{"c":"h11","r":1e9,"v":400},{"c":"h11","r":1.5e9,"v":21000},{"c":"h11","r":2e9,"v":19000},{"c":"h11","r":2.6e9,"v":17300},{"c":"h11","r":3.5e9,"v":15300},{"c":"h11","r":4.5e9,"v":13800},{"c":"h11","r":6.3e9,"v":11800},{"c":"h11","r":8.1e9,"v":10800},{"c":"h11","r":1.09e10,"v":9700},{"c":"h11","r":1.5e10,"v":9200},{"c":"h11","r":2e10,"v":8800},{"c":"h11","r":2.6e10,"v":8700},{"c":"h11","r":3.2e10,"v":8700},{"c":"h11","r":3.8e10,"v":8700},
{"c":"h12","r":1e9,"v":400},{"c":"h12","r":1.5e9,"v":19500},{"c":"h12","r":2e9,"v":17600},{"c":"h12","r":2.6e9,"v":15900},{"c":"h12","r":3.5e9,"v":14100},{"c":"h12","r":4.5e9,"v":12800},{"c":"h12","r":6.3e9,"v":11100},{"c":"h12","r":8.1e9,"v":10200},{"c":"h12","r":1.09e10,"v":9300},{"c":"h12","r":1.5e10,"v":8900},{"c":"h12","r":2e10,"v":8600},{"c":"h12","r":2.6e10,"v":8500},{"c":"h12","r":3.2e10,"v":8600},{"c":"h12","r":3.8e10,"v":8700},
{"c":"h13","r":1e9,"v":400},{"c":"h13","r":1.5e9,"v":17800},{"c":"h13","r":2e9,"v":15900},{"c":"h13","r":2.6e9,"v":14400},{"c":"h13","r":3.5e9,"v":12800},{"c":"h13","r":4.5e9,"v":11700},{"c":"h13","r":6.3e9,"v":10300},{"c":"h13","r":8.1e9,"v":9500},{"c":"h13","r":1.09e10,"v":8800},{"c":"h13","r":1.5e10,"v":8500},{"c":"h13","r":2e10,"v":8300},{"c":"h13","r":2.6e10,"v":8300},{"c":"h13","r":3.2e10,"v":8400},{"c":"h13","r":3.8e10,"v":8600},
{"c":"cold","r":1e9,"v":400},{"c":"cold","r":1.5e9,"v":5500},{"c":"cold","r":2e9,"v":5200},{"c":"cold","r":2.6e9,"v":4800},{"c":"cold","r":3.5e9,"v":4400},{"c":"cold","r":4.5e9,"v":4100},{"c":"cold","r":6.3e9,"v":3700},{"c":"cold","r":8.1e9,"v":3500},{"c":"cold","r":1.09e10,"v":3300},{"c":"cold","r":1.5e10,"v":3100},{"c":"cold","r":2e10,"v":2950},{"c":"cold","r":2.6e10,"v":2900},{"c":"cold","r":3.2e10,"v":2850},{"c":"cold","r":3.8e10,"v":2850},
{"c":"f1","r":1e9,"v":400},{"c":"f1","r":1.5e9,"v":13300},{"c":"f1","r":2e9,"v":11500},{"c":"f1","r":2.46e9,"v":10500},{"c":"f1","r":2.58e9,"v":9000},{"c":"f1","r":2.67e9,"v":7900},{"c":"f1","r":2.76e9,"v":4800},{"c":"f1","r":3.5e9,"v":4400},{"c":"f1","r":4.5e9,"v":4100},{"c":"f1","r":6.3e9,"v":3700},{"c":"f1","r":8.1e9,"v":3500},{"c":"f1","r":1.09e10,"v":3300},{"c":"f1","r":1.5e10,"v":3100},{"c":"f1","r":2e10,"v":2950},{"c":"f1","r":2.6e10,"v":2900},{"c":"f1","r":3.2e10,"v":2850},{"c":"f1","r":3.8e10,"v":2850},
{"c":"f2","r":1e9,"v":400},{"c":"f2","r":1.5e9,"v":13300},{"c":"f2","r":2e9,"v":11500},{"c":"f2","r":2.6e9,"v":10200},{"c":"f2","r":3.36e9,"v":9500},{"c":"f2","r":3.49e9,"v":8300},{"c":"f2","r":3.59e9,"v":7300},{"c":"f2","r":3.69e9,"v":4400},{"c":"f2","r":4.5e9,"v":4100},{"c":"f2","r":6.3e9,"v":3700},{"c":"f2","r":8.1e9,"v":3500},{"c":"f2","r":1.09e10,"v":3300},{"c":"f2","r":1.5e10,"v":3100},{"c":"f2","r":2e10,"v":2950},{"c":"f2","r":2.6e10,"v":2900},{"c":"f2","r":3.2e10,"v":2850},{"c":"f2","r":3.8e10,"v":2850},
{"c":"f3","r":1e9,"v":400},{"c":"f3","r":1.5e9,"v":13300},{"c":"f3","r":2e9,"v":11500},{"c":"f3","r":2.6e9,"v":10200},{"c":"f3","r":3.5e9,"v":9400},{"c":"f3","r":4.5e9,"v":8900},{"c":"f3","r":4.57e9,"v":8850},{"c":"f3","r":4.75e9,"v":7700},{"c":"f3","r":4.88e9,"v":6800},{"c":"f3","r":5.02e9,"v":4000},{"c":"f3","r":6.3e9,"v":3700},{"c":"f3","r":8.1e9,"v":3500},{"c":"f3","r":1.09e10,"v":3300},{"c":"f3","r":1.5e10,"v":3100},{"c":"f3","r":2e10,"v":2950},{"c":"f3","r":2.6e10,"v":2900},{"c":"f3","r":3.2e10,"v":2850},{"c":"f3","r":3.8e10,"v":2850},
{"c":"f4","r":1e9,"v":400},{"c":"f4","r":1.5e9,"v":13300},{"c":"f4","r":2e9,"v":11500},{"c":"f4","r":2.6e9,"v":10200},{"c":"f4","r":3.5e9,"v":9400},{"c":"f4","r":4.5e9,"v":8900},{"c":"f4","r":5.96e9,"v":8400},{"c":"f4","r":6.27e9,"v":9900},{"c":"f4","r":6.55e9,"v":7000},{"c":"f4","r":6.8e9,"v":4100},{"c":"f4","r":6.97e9,"v":3700},{"c":"f4","r":8.1e9,"v":3500},{"c":"f4","r":1.09e10,"v":3300},{"c":"f4","r":1.5e10,"v":3100},{"c":"f4","r":2e10,"v":2950},{"c":"f4","r":2.6e10,"v":2900},{"c":"f4","r":3.2e10,"v":2850},{"c":"f4","r":3.8e10,"v":2850},
{"c":"f5","r":1e9,"v":400},{"c":"f5","r":1.5e9,"v":13300},{"c":"f5","r":2e9,"v":11500},{"c":"f5","r":2.6e9,"v":10200},{"c":"f5","r":3.5e9,"v":9400},{"c":"f5","r":4.5e9,"v":8900},{"c":"f5","r":6.3e9,"v":8500},{"c":"f5","r":8.1e9,"v":8400},{"c":"f5","r":8.73e9,"v":8350},{"c":"f5","r":9.07e9,"v":7300},{"c":"f5","r":9.33e9,"v":6400},{"c":"f5","r":9.59e9,"v":3500},{"c":"f5","r":1.09e10,"v":3300},{"c":"f5","r":1.5e10,"v":3100},{"c":"f5","r":2e10,"v":2950},{"c":"f5","r":2.6e10,"v":2900},{"c":"f5","r":3.2e10,"v":2850},{"c":"f5","r":3.8e10,"v":2850},
{"c":"f6","r":1e9,"v":400},{"c":"f6","r":1.5e9,"v":13300},{"c":"f6","r":2e9,"v":11500},{"c":"f6","r":2.6e9,"v":10200},{"c":"f6","r":3.5e9,"v":9400},{"c":"f6","r":4.5e9,"v":8900},{"c":"f6","r":6.3e9,"v":8500},{"c":"f6","r":8.1e9,"v":8400},{"c":"f6","r":1.062e10,"v":8200},{"c":"f6","r":1.104e10,"v":7100},{"c":"f6","r":1.136e10,"v":6300},{"c":"f6","r":1.167e10,"v":3450},{"c":"f6","r":1.183e10,"v":3300},{"c":"f6","r":1.5e10,"v":3100},{"c":"f6","r":2e10,"v":2950},{"c":"f6","r":2.6e10,"v":2900},{"c":"f6","r":3.2e10,"v":2850},{"c":"f6","r":3.8e10,"v":2850},
{"c":"f7","r":1e9,"v":400},{"c":"f7","r":1.5e9,"v":13300},{"c":"f7","r":2e9,"v":11500},{"c":"f7","r":2.6e9,"v":10200},{"c":"f7","r":3.5e9,"v":9400},{"c":"f7","r":4.5e9,"v":8900},{"c":"f7","r":6.3e9,"v":8500},{"c":"f7","r":8.1e9,"v":8400},{"c":"f7","r":1.09e10,"v":8200},{"c":"f7","r":1.274e10,"v":8100},{"c":"f7","r":1.324e10,"v":7050},{"c":"f7","r":1.362e10,"v":6250},{"c":"f7","r":1.4e10,"v":3400},{"c":"f7","r":1.419e10,"v":3300},{"c":"f7","r":1.5e10,"v":3100},{"c":"f7","r":2e10,"v":2950},{"c":"f7","r":2.6e10,"v":2900},{"c":"f7","r":3.2e10,"v":2850},{"c":"f7","r":3.8e10,"v":2850},
{"c":"f8","r":1e9,"v":400},{"c":"f8","r":1.5e9,"v":13300},{"c":"f8","r":2e9,"v":11500},{"c":"f8","r":2.6e9,"v":10200},{"c":"f8","r":3.5e9,"v":9400},{"c":"f8","r":4.5e9,"v":8900},{"c":"f8","r":6.3e9,"v":8500},{"c":"f8","r":8.1e9,"v":8400},{"c":"f8","r":1.09e10,"v":8200},{"c":"f8","r":1.511e10,"v":8000},{"c":"f8","r":1.571e10,"v":6950},{"c":"f8","r":1.615e10,"v":6150},{"c":"f8","r":1.66e10,"v":3350},{"c":"f8","r":1.682e10,"v":3200},{"c":"f8","r":2e10,"v":2950},{"c":"f8","r":2.6e10,"v":2900},{"c":"f8","r":3.2e10,"v":2850},{"c":"f8","r":3.8e10,"v":2850},
{"c":"f9","r":1e9,"v":400},{"c":"f9","r":1.5e9,"v":13300},{"c":"f9","r":2e9,"v":11500},{"c":"f9","r":2.6e9,"v":10200},{"c":"f9","r":3.5e9,"v":9400},{"c":"f9","r":4.5e9,"v":8900},{"c":"f9","r":6.3e9,"v":8500},{"c":"f9","r":8.1e9,"v":8400},{"c":"f9","r":1.09e10,"v":8200},{"c":"f9","r":1.5e10,"v":8000},{"c":"f9","r":1.811e10,"v":7900},{"c":"f9","r":1.883e10,"v":6900},{"c":"f9","r":1.936e10,"v":6100},{"c":"f9","r":1.99e10,"v":3300},{"c":"f9","r":2.017e10,"v":3150},{"c":"f9","r":2.6e10,"v":2900},{"c":"f9","r":3.2e10,"v":2850},{"c":"f9","r":3.8e10,"v":2850},
{"c":"f10","r":1e9,"v":400},{"c":"f10","r":1.5e9,"v":13300},{"c":"f10","r":2e9,"v":11500},{"c":"f10","r":2.6e9,"v":10200},{"c":"f10","r":3.5e9,"v":9400},{"c":"f10","r":4.5e9,"v":8900},{"c":"f10","r":6.3e9,"v":8500},{"c":"f10","r":8.1e9,"v":8400},{"c":"f10","r":1.09e10,"v":8200},{"c":"f10","r":1.5e10,"v":8000},{"c":"f10","r":2e10,"v":7700},{"c":"f10","r":2.148e10,"v":7600},{"c":"f10","r":2.233e10,"v":6600},{"c":"f10","r":2.296e10,"v":5850},{"c":"f10","r":2.36e10,"v":3200},{"c":"f10","r":2.392e10,"v":3050},{"c":"f10","r":2.6e10,"v":2900},{"c":"f10","r":3.2e10,"v":2850},{"c":"f10","r":3.8e10,"v":2850},
{"c":"f11","r":1e9,"v":400},{"c":"f11","r":1.5e9,"v":13300},{"c":"f11","r":2e9,"v":11500},{"c":"f11","r":2.6e9,"v":10200},{"c":"f11","r":3.5e9,"v":9400},{"c":"f11","r":4.5e9,"v":8900},{"c":"f11","r":6.3e9,"v":8500},{"c":"f11","r":8.1e9,"v":8400},{"c":"f11","r":1.09e10,"v":8200},{"c":"f11","r":1.5e10,"v":8000},{"c":"f11","r":2e10,"v":7700},{"c":"f11","r":2.507e10,"v":7350},{"c":"f11","r":2.606e10,"v":6400},{"c":"f11","r":2.681e10,"v":5650},{"c":"f11","r":2.755e10,"v":3100},{"c":"f11","r":2.792e10,"v":3000},{"c":"f11","r":3.2e10,"v":2850},{"c":"f11","r":3.8e10,"v":2850},
{"c":"f12","r":1e9,"v":400},{"c":"f12","r":1.5e9,"v":13300},{"c":"f12","r":2e9,"v":11500},{"c":"f12","r":2.6e9,"v":10200},{"c":"f12","r":3.5e9,"v":9400},{"c":"f12","r":4.5e9,"v":8900},{"c":"f12","r":6.3e9,"v":8500},{"c":"f12","r":8.1e9,"v":8400},{"c":"f12","r":1.09e10,"v":8200},{"c":"f12","r":1.5e10,"v":8000},{"c":"f12","r":2e10,"v":7700},{"c":"f12","r":2.6e10,"v":7300},{"c":"f12","r":2.957e10,"v":7250},{"c":"f12","r":3.074e10,"v":6300},{"c":"f12","r":3.162e10,"v":5550},{"c":"f12","r":3.25e10,"v":3050},{"c":"f12","r":3.294e10,"v":2950},{"c":"f12","r":3.8e10,"v":2850},
{"c":"f13","r":1e9,"v":400},{"c":"f13","r":1.5e9,"v":13300},{"c":"f13","r":2e9,"v":11500},{"c":"f13","r":2.6e9,"v":10200},{"c":"f13","r":3.5e9,"v":9400},{"c":"f13","r":4.5e9,"v":8900},{"c":"f13","r":6.3e9,"v":8500},{"c":"f13","r":8.1e9,"v":8400},{"c":"f13","r":1.09e10,"v":8200},{"c":"f13","r":1.5e10,"v":8000},{"c":"f13","r":2e10,"v":7700},{"c":"f13","r":2.6e10,"v":7300},{"c":"f13","r":3.2e10,"v":7250},{"c":"f13","r":3.36e10,"v":7200},{"c":"f13","r":3.47e10,"v":6300},{"c":"f13","r":3.8e10,"v":6000}
],
"arrows":[{"x":5e9,"x2":1.4e10,"y":150000},{"x":2.5e10,"x2":3.4e10,"y":150000}],
"label":[{"x":2e10,"y":150000,"t":"heating front"}]
},
"vconcat":[
{"width":678,"height":190,"data":{"name":"sig"},
"resolve":{"axis":{"x":"independent","y":"independent"}},
"layer":[
{"transform":[{"filter":"indexof(datum.c,'h')==0"}],"mark":{"type":"line","color":"black","strokeWidth":1,"clip":true},
"encoding":{"x":{"field":"r","type":"quantitative","scale":{"domain":[1e9,3.8e10],"nice":false,"zero":false},"axis":null},
"y":{"field":"v","type":"quantitative","scale":{"domain":[0,1700],"nice":false},"axis":{"orient":"left","values":[500,1000,1500],"grid":false,"ticks":false,"domain":false,"format":"d","labelPadding":17,"title":"Σ[g cm⁻²]","titlePadding":14}},
"detail":{"field":"c"}}},
{"transform":[{"filter":"indexof(datum.c,'f')==0"}],"mark":{"type":"line","color":"black","strokeWidth":1,"clip":true},
"encoding":{"x":{"field":"r","type":"quantitative","axis":null},"y":{"field":"v","type":"quantitative","axis":null},"detail":{"field":"c"}}},
{"transform":[{"filter":"datum.c=='cold'"}],"mark":{"type":"line","color":"black","strokeWidth":2.8,"clip":true},
"encoding":{"x":{"field":"r","type":"quantitative","axis":null},"y":{"field":"v","type":"quantitative","axis":null}}},
{"data":{"name":"xt"},"transform":[{"filter":"datum.k=='M'"}],"mark":{"type":"rule","color":"black","strokeWidth":1},
"encoding":{"x":{"field":"r","type":"quantitative","axis":null},"y":{"datum":0,"type":"quantitative","axis":null},"y2":{"datum":107}}},
{"data":{"name":"xt"},"transform":[{"filter":"datum.k=='m'"}],"mark":{"type":"rule","color":"black","strokeWidth":1},
"encoding":{"x":{"field":"r","type":"quantitative","axis":null},"y":{"datum":0,"type":"quantitative","axis":null},"y2":{"datum":54}}},
{"data":{"name":"xt"},"transform":[{"filter":"datum.k=='M'"}],"mark":{"type":"rule","color":"black","strokeWidth":1},
"encoding":{"x":{"field":"r","type":"quantitative","axis":null},"y":{"datum":1700,"type":"quantitative","axis":null},"y2":{"datum":1593}}},
{"data":{"name":"xt"},"transform":[{"filter":"datum.k=='m'"}],"mark":{"type":"rule","color":"black","strokeWidth":1},
"encoding":{"x":{"field":"r","type":"quantitative","axis":null},"y":{"datum":1700,"type":"quantitative","axis":null},"y2":{"datum":1646}}},
{"data":{"name":"y1"},"transform":[{"filter":"datum.k=='M'"}],"mark":{"type":"rule","color":"black","strokeWidth":1},
"encoding":{"y":{"field":"v","type":"quantitative","axis":null},"x":{"datum":1e9,"type":"quantitative","axis":null},"x2":{"datum":1.655e9}}},
{"data":{"name":"y1"},"transform":[{"filter":"datum.k=='m'"}],"mark":{"type":"rule","color":"black","strokeWidth":1},
"encoding":{"y":{"field":"v","type":"quantitative","axis":null},"x":{"datum":1e9,"type":"quantitative","axis":null},"x2":{"datum":1.327e9}}},
{"data":{"name":"y1"},"transform":[{"filter":"datum.k=='M'"}],"mark":{"type":"rule","color":"black","strokeWidth":1},
"encoding":{"y":{"field":"v","type":"quantitative","axis":null},"x":{"datum":3.8e10,"type":"quantitative","axis":null},"x2":{"datum":3.7345e10}}}
]},
{"width":678,"height":190,"data":{"name":"tc"},
"resolve":{"axis":{"x":"independent","y":"independent"}},
"layer":[
{"transform":[{"filter":"indexof(datum.c,'h')==0"}],"mark":{"type":"line","color":"black","strokeWidth":1,"clip":true},
"encoding":{"x":{"field":"r","type":"quantitative","scale":{"domain":[1e9,3.8e10],"nice":false,"zero":false},"axis":null},
"y":{"field":"v","type":"quantitative","scale":{"domain":[0,200000],"nice":false},"axis":{"orient":"left","values":[50000,100000,150000],"grid":false,"ticks":false,"domain":false,"labelPadding":17,"labelExpr":"datum.value==50000?'5×10⁴':datum.value==100000?'10⁵':'1.5×10⁵'","title":"Tc[K]","titlePadding":14}},
"detail":{"field":"c"}}},
{"transform":[{"filter":"indexof(datum.c,'f')==0"}],"mark":{"type":"line","color":"black","strokeWidth":1,"clip":true},
"encoding":{"x":{"field":"r","type":"quantitative","axis":null},"y":{"field":"v","type":"quantitative","axis":null},"detail":{"field":"c"}}},
{"transform":[{"filter":"datum.c=='cold'"}],"mark":{"type":"line","color":"black","strokeWidth":2.8,"clip":true},
"encoding":{"x":{"field":"r","type":"quantitative","axis":null},"y":{"field":"v","type":"quantitative","axis":null}}},
{"data":{"name":"xt"},"transform":[{"filter":"datum.k=='M'"}],"mark":{"type":"rule","color":"black","strokeWidth":1},
"encoding":{"x":{"field":"r","type":"quantitative","axis":null},"y":{"datum":0,"type":"quantitative","axis":null},"y2":{"datum":12630}}},
{"data":{"name":"xt"},"transform":[{"filter":"datum.k=='m'"}],"mark":{"type":"rule","color":"black","strokeWidth":1},
"encoding":{"x":{"field":"r","type":"quantitative","axis":null},"y":{"datum":0,"type":"quantitative","axis":null},"y2":{"datum":6320}}},
{"data":{"name":"xt"},"transform":[{"filter":"datum.k=='M'"}],"mark":{"type":"rule","color":"black","strokeWidth":1},
"encoding":{"x":{"field":"r","type":"quantitative","axis":null},"y":{"datum":200000,"type":"quantitative","axis":null},"y2":{"datum":187370}}},
{"data":{"name":"xt"},"transform":[{"filter":"datum.k=='m'"}],"mark":{"type":"rule","color":"black","strokeWidth":1},
"encoding":{"x":{"field":"r","type":"quantitative","axis":null},"y":{"datum":200000,"type":"quantitative","axis":null},"y2":{"datum":193680}}},
{"data":{"name":"y2"},"transform":[{"filter":"datum.k=='M'"}],"mark":{"type":"rule","color":"black","strokeWidth":1},
"encoding":{"y":{"field":"v","type":"quantitative","axis":null},"x":{"datum":1e9,"type":"quantitative","axis":null},"x2":{"datum":1.655e9}}},
{"data":{"name":"y2"},"transform":[{"filter":"datum.k=='m'"}],"mark":{"type":"rule","color":"black","strokeWidth":1},
"encoding":{"y":{"field":"v","type":"quantitative","axis":null},"x":{"datum":1e9,"type":"quantitative","axis":null},"x2":{"datum":1.327e9}}},
{"data":{"name":"y2"},"transform":[{"filter":"datum.k=='M'"}],"mark":{"type":"rule","color":"black","strokeWidth":1},
"encoding":{"y":{"field":"v","type":"quantitative","axis":null},"x":{"datum":3.8e10,"type":"quantitative","axis":null},"x2":{"datum":3.7345e10}}},
{"data":{"name":"arrows"},"mark":{"type":"rule","color":"black","strokeWidth":1},
"encoding":{"x":{"field":"x","type":"quantitative","axis":null},"x2":{"field":"x2"},"y":{"field":"y","type":"quantitative","axis":null}}},
{"data":{"name":"arrows"},"mark":{"type":"point","shape":"M-1,-0.17L0,0L-1,0.17","size":3600,"filled":false,"color":"black","strokeWidth":1,"opacity":1},
"encoding":{"x":{"field":"x2","type":"quantitative","axis":null},"y":{"field":"y","type":"quantitative","axis":null}}},
{"data":{"name":"label"},"mark":{"type":"text","font":"DejaVu Serif","fontSize":22,"color":"black","align":"center","baseline":"middle"},
"encoding":{"x":{"field":"x","type":"quantitative","axis":null},"y":{"field":"y","type":"quantitative","axis":null},"text":{"field":"t"}}}
]},
{"width":678,"height":190,"data":{"name":"te"},
"resolve":{"axis":{"x":"independent","y":"independent"}},
"layer":[
{"transform":[{"filter":"indexof(datum.c,'h')==0"}],"mark":{"type":"line","color":"black","strokeWidth":1,"clip":true},
"encoding":{"x":{"field":"r","type":"quantitative","scale":{"domain":[1e9,3.8e10],"nice":false,"zero":false},"axis":{"orient":"bottom","values":[1e10,2e10,3e10],"grid":false,"ticks":false,"domain":false,"labelPadding":10,"labelExpr":"datum.value==1e10?'10¹⁰':datum.value==2e10?'2×10¹⁰':'3×10¹⁰'","title":"R[cm]","titlePadding":4}},
"y":{"field":"v","type":"quantitative","scale":{"domain":[0,39000],"nice":false},"axis":{"orient":"left","values":[10000,20000,30000],"grid":false,"ticks":false,"domain":false,"labelPadding":17,"labelExpr":"datum.value==10000?'10⁴':datum.value==20000?'2×10⁴':'3×10⁴'","title":"Teff[K]","titlePadding":14}},
"detail":{"field":"c"}}},
{"transform":[{"filter":"indexof(datum.c,'f')==0"}],"mark":{"type":"line","color":"black","strokeWidth":1,"clip":true},
"encoding":{"x":{"field":"r","type":"quantitative","axis":null},"y":{"field":"v","type":"quantitative","axis":null},"detail":{"field":"c"}}},
{"transform":[{"filter":"datum.c=='cold'"}],"mark":{"type":"line","color":"black","strokeWidth":2.8,"clip":true},
"encoding":{"x":{"field":"r","type":"quantitative","axis":null},"y":{"field":"v","type":"quantitative","axis":null}}},
{"data":{"name":"xt"},"transform":[{"filter":"datum.k=='M'"}],"mark":{"type":"rule","color":"black","strokeWidth":1},
"encoding":{"x":{"field":"r","type":"quantitative","axis":null},"y":{"datum":0,"type":"quantitative","axis":null},"y2":{"datum":2463}}},
{"data":{"name":"xt"},"transform":[{"filter":"datum.k=='m'"}],"mark":{"type":"rule","color":"black","strokeWidth":1},
"encoding":{"x":{"field":"r","type":"quantitative","axis":null},"y":{"datum":0,"type":"quantitative","axis":null},"y2":{"datum":1232}}},
{"data":{"name":"xt"},"transform":[{"filter":"datum.k=='M'"}],"mark":{"type":"rule","color":"black","strokeWidth":1},
"encoding":{"x":{"field":"r","type":"quantitative","axis":null},"y":{"datum":39000,"type":"quantitative","axis":null},"y2":{"datum":36537}}},
{"data":{"name":"xt"},"transform":[{"filter":"datum.k=='m'"}],"mark":{"type":"rule","color":"black","strokeWidth":1},
"encoding":{"x":{"field":"r","type":"quantitative","axis":null},"y":{"datum":39000,"type":"quantitative","axis":null},"y2":{"datum":37768}}},
{"data":{"name":"y3"},"transform":[{"filter":"datum.k=='M'"}],"mark":{"type":"rule","color":"black","strokeWidth":1},
"encoding":{"y":{"field":"v","type":"quantitative","axis":null},"x":{"datum":1e9,"type":"quantitative","axis":null},"x2":{"datum":1.655e9}}},
{"data":{"name":"y3"},"transform":[{"filter":"datum.k=='m'"}],"mark":{"type":"rule","color":"black","strokeWidth":1},
"encoding":{"y":{"field":"v","type":"quantitative","axis":null},"x":{"datum":1e9,"type":"quantitative","axis":null},"x2":{"datum":1.327e9}}},
{"data":{"name":"y3"},"transform":[{"filter":"datum.k=='M'"}],"mark":{"type":"rule","color":"black","strokeWidth":1},
"encoding":{"y":{"field":"v","type":"quantitative","axis":null},"x":{"datum":3.8e10,"type":"quantitative","axis":null},"x2":{"datum":3.7345e10}}}
]}
]
}
